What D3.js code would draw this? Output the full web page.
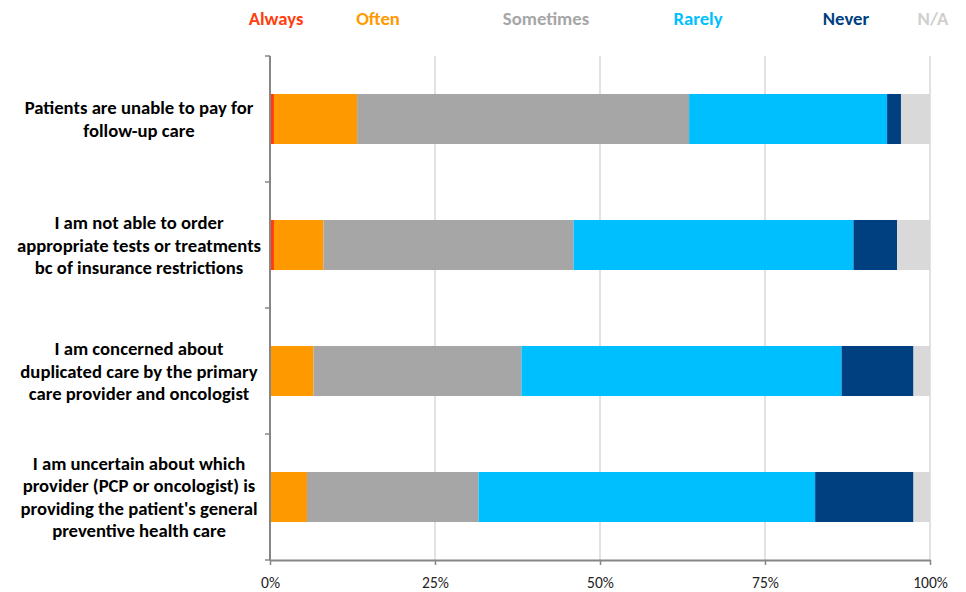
<!DOCTYPE html>
<html><head><meta charset="utf-8">
<script src="https://cdn.jsdelivr.net/npm/d3@7"></script>
<style>body{margin:0;background:#fff}svg{display:block}</style>
</head><body>
<svg id="c" width="966" height="592"></svg>
<script>
const categories = [
  "Patients are unable to pay for|follow-up care",
  "I am not able to order|appropriate tests or treatments|bc of insurance restrictions",
  "I am concerned about|duplicated care by the primary|care provider and oncologist",
  "I am uncertain about which|provider (PCP or oncologist) is|providing the patient's general|preventive health care"
];
const seriesNames = ["Always","Often","Sometimes","Rarely","Never","N/A"];
const seriesColors = ["#ff3d0d","#ff9900","#a6a6a6","#00bfff","#003f80","#d9d9d9"];
const legendColors = ["#ff3d0d","#ff9900","#a6a6a6","#00bfff","#003f80","#cfcfcf"];
const always    = [0.6, 0.6, 0, 0];
const often     = [12.6, 7.5, 6.6, 5.6];
const sometimes = [50.3, 37.9, 31.5, 26.0];
const rarely    = [30.0, 42.4, 48.5, 51.0];
const never     = [2.1, 6.6, 10.9, 14.9];
const na        = [4.4, 5.0, 2.5, 2.5];
const xTicks = [0, 25, 50, 75, 100];
const legendX = [276, 378, 546, 698, 846, 933];

(function(){
const series = [always, often, sometimes, rarely, never, na];
const svg = d3.select("#c");
const font = "Carlito, 'Liberation Sans Narrow', 'Liberation Sans', sans-serif";
const pL = 270, pR = 930, pT = 56, pB = 560;
const x = d3.scaleLinear().domain([0,100]).range([pL,pR]);
const y = d3.scaleBand().domain(d3.range(categories.length)).range([pT,pB]).paddingInner(0.603).paddingOuter(0.3015);

svg.append("g").selectAll("line").data(xTicks.filter(t=>t>0)).join("line")
  .attr("x1",d=>x(d)).attr("x2",d=>x(d)).attr("y1",pT).attr("y2",pB)
  .attr("stroke","#d9d9d9").attr("stroke-width",1.5);

const rows = categories.map((c,i)=>{
  let acc=0; return series.map((s,k)=>{const v=s[i]; const o={i,k,x0:acc,x1:acc+v}; acc+=v; return o;});
}).flat().filter(d=>d.x1>d.x0);
svg.append("g").selectAll("rect").data(rows).join("rect")
  .attr("x",d=>x(d.x0)).attr("width",d=>x(d.x1)-x(d.x0))
  .attr("y",d=>y(d.i)).attr("height",y.bandwidth())
  .attr("fill",d=>seriesColors[d.k]);

const xa = svg.append("g").attr("transform",`translate(0,${pB})`)
  .call(d3.axisBottom(x).tickValues(xTicks).tickFormat(d=>d+"%").tickSize(5).tickSizeOuter(0));
xa.select(".domain").attr("stroke","#868686").attr("stroke-width",2);
xa.selectAll(".tick line").attr("stroke","#868686").attr("stroke-width",1.5);
xa.selectAll("text").attr("font-family",font).attr("font-size",15.5).attr("fill","#222").attr("dy","1.3em");

svg.append("line").attr("x1",pL).attr("x2",pL).attr("y1",pT).attr("y2",pB)
  .attr("stroke","#868686").attr("stroke-width",2);
const step = y.step();
svg.append("g").selectAll("line").data(d3.range(categories.length+1)).join("line")
  .attr("x1",pL-5).attr("x2",pL).attr("y1",d=>pT+d*step).attr("y2",d=>pT+d*step)
  .attr("stroke","#868686").attr("stroke-width",1.5);

categories.forEach((c,i)=>{
  const lines = c.split("|");
  const cy = y(i)+y.bandwidth()/2;
  const lh = 22.5;
  const t = svg.append("text").attr("text-anchor","middle").attr("font-family",font)
    .attr("font-size",18.7).attr("font-weight","bold").attr("fill","#000");
  lines.forEach((l,j)=>{
    t.append("tspan").attr("x",139).attr("y",cy+(j-(lines.length-1)/2)*lh).attr("dy","0.35em").text(l);
  });
});

svg.append("g").selectAll("text").data(seriesNames).join("text")
  .attr("x",(d,i)=>legendX[i]).attr("y",18).attr("dy","0.35em").attr("text-anchor","middle")
  .attr("font-family",font).attr("font-size",18.7).attr("font-weight","bold")
  .attr("fill",(d,i)=>legendColors[i]).text(d=>d);
})();
</script>
</body></html>
